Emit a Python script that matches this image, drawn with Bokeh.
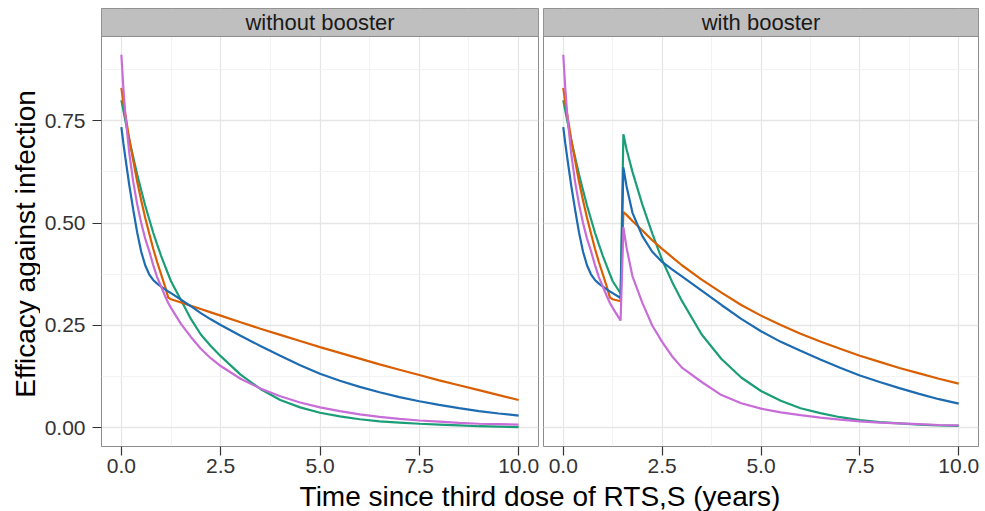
import math

from bokeh.plotting import figure
from bokeh.layouts import column, row
from bokeh.models import Range1d, FixedTicker, NumeralTickFormatter
from bokeh.core.properties import value
from bokeh.embed import file_html
from bokeh.resources import INLINE

# ---------------------------------------------------------------------------
# Efficacy against infection over time since the third RTS,S dose
# ---------------------------------------------------------------------------

# Panel without booster
T_NO = [0, 0.05, 0.1, 0.2, 0.3, 0.4, 0.5, 0.6, 0.7, 0.8, 0.9, 1.0, 1.1, 1.18,
        1.25, 1.5, 1.75, 2.0, 2.25, 2.5, 3.0, 3.5, 4.0, 4.5, 5.0, 5.5, 6.0,
        6.5, 7.0, 7.5, 8.0, 8.5, 9.0, 9.5, 10.0]
GREEN_NO = [0.80, 0.775, 0.75, 0.703, 0.66, 0.618, 0.58, 0.543, 0.51, 0.477,
            0.448, 0.42, 0.395, 0.375, 0.358, 0.312, 0.266, 0.228, 0.2, 0.175,
            0.13, 0.095, 0.068, 0.05, 0.037, 0.028, 0.021, 0.016, 0.013,
            0.010, 0.008, 0.006, 0.004, 0.003, 0.002]
ORANGE_NO = [0.83, 0.795, 0.765, 0.705, 0.652, 0.60, 0.555, 0.513, 0.475,
             0.438, 0.405, 0.375, 0.345, 0.318, 0.314, 0.306, 0.298, 0.290,
             0.282, 0.274, 0.258, 0.242, 0.227, 0.212, 0.197, 0.183, 0.169,
             0.155, 0.142, 0.129, 0.116, 0.104, 0.092, 0.080, 0.068]
BLUE_NO = [0.734, 0.695, 0.66, 0.592, 0.532, 0.476, 0.43, 0.397, 0.375,
           0.361, 0.352, 0.345, 0.338, 0.333, 0.329, 0.313, 0.297, 0.280,
           0.265, 0.251, 0.225, 0.200, 0.176, 0.153, 0.132, 0.115, 0.100,
           0.087, 0.075, 0.065, 0.056, 0.048, 0.041, 0.035, 0.030]
PINK_NO = [0.911, 0.83, 0.765, 0.67, 0.6, 0.545, 0.5, 0.462, 0.432, 0.398,
           0.368, 0.345, 0.322, 0.305, 0.293, 0.254, 0.222, 0.193, 0.17, 0.151,
           0.12, 0.096, 0.077, 0.062, 0.05, 0.041, 0.033, 0.027, 0.022,
           0.018, 0.015, 0.012, 0.010, 0.009, 0.008]

# Panel with booster (booster given at about 1.5 years)
T_BOOST = [0, 0.05, 0.1, 0.2, 0.3, 0.4, 0.5, 0.6, 0.7, 0.8, 0.9, 1.0, 1.1,
           1.18, 1.25, 1.45, 1.52, 1.6, 1.75, 2.0, 2.25, 2.5, 2.75, 3.0, 3.5,
           4.0, 4.5, 5.0, 5.5, 6.0, 6.5, 7.0, 7.5, 8.0, 8.5, 9.0, 9.5, 10.0]
GREEN_BOOST = [0.80, 0.775, 0.75, 0.703, 0.66, 0.618, 0.58, 0.543, 0.51,
               0.477, 0.448, 0.42, 0.395, 0.375, 0.358, 0.328, 0.717, 0.68,
               0.625, 0.545, 0.475, 0.41, 0.357, 0.31, 0.228, 0.168, 0.123,
               0.09, 0.066, 0.048, 0.036, 0.026, 0.019, 0.014, 0.011, 0.008,
               0.006, 0.005]
ORANGE_BOOST = [0.83, 0.795, 0.765, 0.705, 0.652, 0.60, 0.555, 0.513, 0.475,
                0.438, 0.405, 0.375, 0.345, 0.318, 0.314, 0.309, 0.527, 0.52,
                0.505, 0.482, 0.458, 0.437, 0.417, 0.397, 0.362, 0.33, 0.30,
                0.274, 0.251, 0.23, 0.211, 0.193, 0.176, 0.161, 0.146, 0.133,
                0.12, 0.108]
BLUE_BOOST = [0.734, 0.695, 0.66, 0.592, 0.532, 0.476, 0.43, 0.397, 0.375,
              0.361, 0.352, 0.345, 0.338, 0.333, 0.329, 0.317, 0.636, 0.59,
              0.525, 0.468, 0.43, 0.405, 0.387, 0.37, 0.335, 0.30, 0.266,
              0.236, 0.21, 0.188, 0.167, 0.147, 0.128, 0.112, 0.097, 0.083,
              0.07, 0.059]
PINK_BOOST = [0.911, 0.83, 0.765, 0.67, 0.6, 0.545, 0.5, 0.462, 0.432, 0.398,
              0.368, 0.345, 0.322, 0.305, 0.293, 0.262, 0.49, 0.44, 0.37,
              0.305, 0.25, 0.21, 0.175, 0.147, 0.112, 0.08, 0.06, 0.047,
              0.038, 0.031, 0.025, 0.02, 0.016, 0.013, 0.011, 0.009, 0.007,
              0.006]

X_TICKS = [0, 2.5, 5, 7.5, 10]
X_MINOR = [1.25, 3.75, 6.25, 8.75]
Y_TICKS = [0, 0.25, 0.5, 0.75]
Y_MINOR = [0.125, 0.375, 0.625, 0.875]

PANEL_TITLES = ["without booster", "with booster"]
X_TITLE = "Time since third dose of RTS,S (years)"
Y_TITLE = "Efficacy against infection"

COLORS = {"orange": "#D95F02", "green": "#1B9E77", "blue": "#1D6BB0", "pink": "#C86DD7"}

FONT = "Liberation Sans"

# value range of the panel, plus a band above it for the facet strip
Y_LO, Y_HI = -0.0455, 0.9555
STRIP_TOP = 1.0238
X_LO, X_HI = -0.5, 10.5

ROW_HEIGHT = 481


def make_panel(title, t, curves, first):
    kw = dict(frame_width=437 if first else 435, frame_height=438,
              x_range=Range1d(X_LO, X_HI), y_range=Range1d(Y_LO, STRIP_TOP),
              output_backend="svg", toolbar_location=None,
              min_border_top=8, min_border_bottom=0,
              background_fill_color="white", border_fill_color="white")
    if first:
        kw.update(min_border_left=61, min_border_right=1)
    else:
        kw.update(min_border_left=4, min_border_right=7, y_axis_location=None)
    p = figure(**kw)
    p.outline_line_color = "#8C8C8C"
    p.outline_line_width = 1

    # grid
    p.xgrid.grid_line_color = "#E6E6E6"
    p.ygrid.grid_line_color = "#E6E6E6"
    p.xgrid.grid_line_width = 1.3
    p.ygrid.grid_line_width = 1.3
    p.xgrid.minor_grid_line_color = "#F3F3F3"
    p.ygrid.minor_grid_line_color = "#F3F3F3"

    # axes
    p.xaxis.ticker = FixedTicker(ticks=X_TICKS, minor_ticks=X_MINOR)
    p.xaxis.formatter = NumeralTickFormatter(format="0.0")
    if first:
        p.yaxis.ticker = FixedTicker(ticks=Y_TICKS, minor_ticks=Y_MINOR)
        p.yaxis.formatter = NumeralTickFormatter(format="0.00")
        p.yaxis.major_label_standoff = 7
    else:
        p.ygrid.ticker = FixedTicker(ticks=Y_TICKS, minor_ticks=Y_MINOR)
    p.xaxis.major_label_standoff = 3
    for ax in p.axis:
        ax.axis_line_color = None
        ax.major_tick_line_color = "#333333"
        ax.major_tick_line_width = 1.2
        ax.major_tick_in = 0
        ax.major_tick_out = 9
        ax.minor_tick_in = 0
        ax.minor_tick_out = 0
        ax.major_label_text_font = FONT
        ax.major_label_text_font_size = "21px"
        ax.major_label_text_color = "#333333"

    # curves
    for name, vals in curves:
        p.line(t, vals, line_color=COLORS[name], line_width=2.2)

    # facet strip
    p.quad(left=[X_LO], right=[X_HI], bottom=[Y_HI], top=[STRIP_TOP],
           fill_color="#BFBFBF", line_color="#8C8C8C", line_width=1)
    p.text(x=[(X_LO + X_HI) / 2], y=[(Y_HI + STRIP_TOP) / 2], text=[title],
           text_align="center", text_baseline="middle",
           text_font=value(FONT), text_font_size="22px", text_color="#1A1A1A")
    return p


def blank(width, height):
    b = figure(width=width, height=height, x_range=Range1d(0, width),
               y_range=Range1d(0, height), x_axis_location=None,
               y_axis_location=None, min_border=0, output_backend="svg",
               toolbar_location=None)
    b.grid.visible = False
    b.outline_line_color = None
    return b


p1 = make_panel(PANEL_TITLES[0], T_NO,
                [("green", GREEN_NO), ("orange", ORANGE_NO),
                 ("blue", BLUE_NO), ("pink", PINK_NO)], True)
p2 = make_panel(PANEL_TITLES[1], T_BOOST,
                [("green", GREEN_BOOST), ("orange", ORANGE_BOOST),
                 ("blue", BLUE_BOOST), ("pink", PINK_BOOST)], False)

# y-axis title, centred on the data panels (strips excluded)
p0 = blank(40, ROW_HEIGHT)
p0.text(x=[25], y=[ROW_HEIGHT - 255], text=[Y_TITLE], angle=math.pi / 2,
        text_align="center", text_baseline="middle", text_font=value(FONT),
        text_font_size="28px", text_color="black")

# shared x-axis title below both panels
p3 = blank(985, 30)
p3.text(x=[539.5], y=[15], text=[X_TITLE], text_align="center",
        text_baseline="middle", text_font=value(FONT), text_font_size="28px",
        text_color="black")

layout = column(row(p0, p1, p2, spacing=0), p3, spacing=0)

open("out.html", "w").write(file_html(layout, INLINE))
